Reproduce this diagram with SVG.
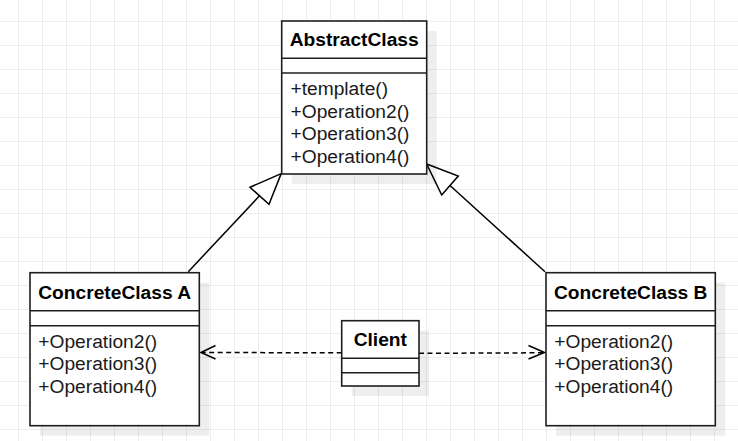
<svg xmlns="http://www.w3.org/2000/svg" width="738" height="441" viewBox="0 0 738 441">
<style>
.box{fill:#fff;stroke:#1e1e1e;stroke-width:1.6}
.sh{fill:#000;fill-opacity:0.065}
.sep{stroke:#1e1e1e;stroke-width:1.6}
.t{font-family:"Liberation Sans",Arial,sans-serif;font-size:19.2px;font-weight:bold;fill:#000;text-anchor:middle}
.m{font-family:"Liberation Sans",Arial,sans-serif;font-size:19.2px;fill:#1a1a1a}
.ln{fill:none;stroke:#000;stroke-width:1.5}
.dash{fill:none;stroke:#000;stroke-width:1.5;stroke-dasharray:5 3.5}
.tri{fill:#fff;stroke:#000;stroke-width:1.5;stroke-linejoin:miter}
.open{fill:none;stroke:#000;stroke-width:1.5}
</style>
<defs>
<pattern id="grid" patternUnits="userSpaceOnUse" x="18" y="21" width="24" height="24">
<path d="M0.5 0V24M0 0.5H24" stroke="#ededed" stroke-width="1" fill="none"/>
</pattern>
</defs>
<rect width="738" height="441" fill="#fff"/>
<rect width="738" height="441" fill="url(#grid)"/>

<g id="connectors">
<line class="ln" x1="188.3" y1="271.7" x2="259.5" y2="195.8"/>
<polygon class="tri" points="281.2,173.6 250,187.3 269,204.3"/>
<line class="ln" x1="545" y1="271.7" x2="450" y2="185.5"/>
<polygon class="tri" points="426.7,164 458.3,176 441.7,195"/>
<line class="dash" x1="341.7" y1="352.8" x2="202" y2="352.5"/>
<polyline class="open" points="215.5,345.5 201,352.5 215.5,359"/>
<line class="dash" x1="419" y1="353.3" x2="543" y2="352.8"/>
<polyline class="open" points="528.5,345.5 544.5,352.5 528.5,359"/>
</g>

<g id="AbstractClass">
<rect class="sh" x="291.7" y="31" width="145" height="153"/>
<rect class="box" x="281.7" y="21" width="145" height="153"/>
<line class="sep" x1="281.7" y1="58.3" x2="426.7" y2="58.3"/>
<line class="sep" x1="281.7" y1="73" x2="426.7" y2="73"/>
<text class="t" x="354.2" y="45.5">AbstractClass</text>
<text class="m" x="290.5" y="95">+template()</text>
<text class="m" x="290.5" y="117.5">+Operation2()</text>
<text class="m" x="290.5" y="140">+Operation3()</text>
<text class="m" x="290.5" y="162.5">+Operation4()</text>
</g>

<g id="ConcreteClassA">
<rect class="sh" x="40" y="282.7" width="169.3" height="153"/>
<rect class="box" x="30" y="272.7" width="169.3" height="153"/>
<line class="sep" x1="30" y1="310.7" x2="199.3" y2="310.7"/>
<line class="sep" x1="30" y1="325.7" x2="199.3" y2="325.7"/>
<text class="t" x="114.7" y="298.5">ConcreteClass A</text>
<text class="m" x="38.3" y="347.5">+Operation2()</text>
<text class="m" x="38.3" y="370">+Operation3()</text>
<text class="m" x="38.3" y="392.5">+Operation4()</text>
</g>

<g id="ConcreteClassB">
<rect class="sh" x="556" y="282.7" width="169.3" height="153"/>
<rect class="box" x="546" y="272.7" width="169.3" height="153"/>
<line class="sep" x1="546" y1="310.7" x2="715.3" y2="310.7"/>
<line class="sep" x1="546" y1="325.7" x2="715.3" y2="325.7"/>
<text class="t" x="630.7" y="298.5">ConcreteClass B</text>
<text class="m" x="554.3" y="347.5">+Operation2()</text>
<text class="m" x="554.3" y="370">+Operation3()</text>
<text class="m" x="554.3" y="392.5">+Operation4()</text>
</g>

<g id="Client">
<rect class="sh" x="351.7" y="330.7" width="77.3" height="65.3"/>
<rect class="box" x="341.7" y="320.7" width="77.3" height="65.3"/>
<line class="sep" x1="341.7" y1="358.3" x2="419" y2="358.3"/>
<line class="sep" x1="341.7" y1="372.7" x2="419" y2="372.7"/>
<text class="t" x="380.3" y="346">Client</text>
</g>
</svg>
